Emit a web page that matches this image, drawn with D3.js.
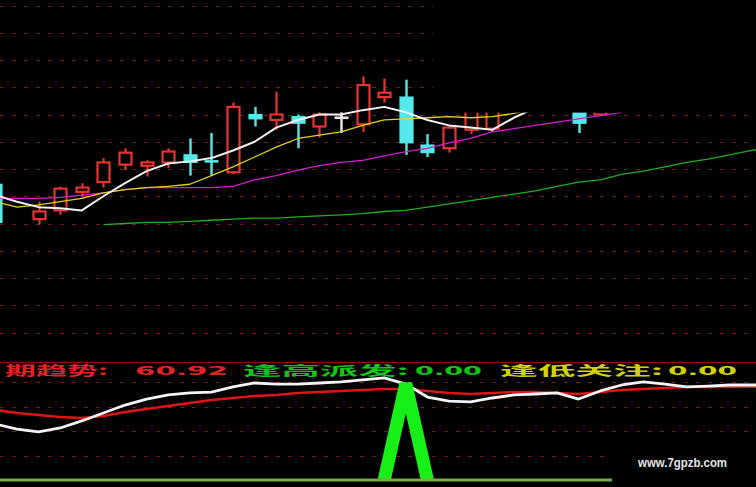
<!DOCTYPE html>
<html>
<head>
<meta charset="utf-8">
<script src="https://cdn.jsdelivr.net/npm/d3@7/dist/d3.min.js"></script>
<style>
html,body{margin:0;padding:0;background:#000;overflow:hidden;}
svg{display:block;}
</style>
</head>
<body>
<svg id="chart" width="756" height="487"></svg>
<script>
// ---------------- DATA ----------------
// bar indices of candles (index 0 has no visible candle)
const candleIndex = [-1,1,2,3,4,5,6,7,8,9,10,11,12,13,14,15,16,17,18,19,20,21,22,23,24,25,26,27];
const candleOpen  = [10.36,10.04,10.12,10.29,10.38,10.54,10.53,10.56,10.63,10.58,10.47,11.00,10.95,10.98,10.89,10.97,10.91,11.16,11.16,10.72,10.69,10.86,10.87,11.08,11.22,11.11,11.13,11.00];
const candleHigh  = [10.38,10.20,10.34,10.37,10.60,10.69,10.58,10.69,10.78,10.83,11.11,11.07,11.21,11.00,11.02,11.02,11.35,11.33,11.32,10.82,10.89,11.13,11.11,11.26,11.30,11.32,11.21,11.15];
const candleLow   = [ 9.98, 9.99,10.08,10.24,10.33,10.49,10.43,10.51,10.44,10.44,10.45,10.89,10.86,10.69,10.79,10.83,10.84,11.11,10.63,10.61,10.65,10.82,10.84,11.04,11.06,11.04,10.83,10.99];
const candleClose = [10.01,10.11,10.32,10.33,10.56,10.65,10.56,10.66,10.56,10.56,11.07,10.96,11.00,10.92,11.00,10.97,11.27,11.20,10.74,10.65,10.88,11.06,11.04,11.21,11.13,11.26,10.92,11.10];

// moving averages (start index given)
const ma5Start = -1;
const ma5  = [10.26,10.20,10.15,10.14,10.12,10.25,10.37,10.48,10.55,10.57,10.60,10.67,10.75,10.88,10.95,11.00,11.00,11.04,11.07,11.02,10.95,10.90,10.88,10.86,10.97,11.06,11.13,11.15,11.17];
const ma10Start = -1;
const ma10 = [10.20,10.15,10.17,10.20,10.23,10.28,10.31,10.33,10.34,10.36,10.44,10.52,10.61,10.70,10.78,10.81,10.84,10.90,10.95,10.96,10.97,10.98,10.97,10.98,11.01,11.06,11.10,11.13,11.16];
const ma20Start = -1;
const ma20 = [10.23,10.23,10.23,10.24,10.26,10.28,10.31,10.33,10.33,10.33,10.33,10.34,10.40,10.44,10.49,10.53,10.56,10.58,10.62,10.66,10.69,10.74,10.78,10.84,10.87,10.90,10.93,10.96,10.99,11.02];
const ma60Start = 4;
const ma60 = [9.99,10.00,10.01,10.01,10.02,10.03,10.04,10.05,10.05,10.06,10.07,10.08,10.09,10.11,10.12,10.15,10.18,10.21,10.24,10.27,10.30,10.34,10.38,10.40,10.45,10.48,10.52,10.56,10.59,10.63,10.67,10.70];

// lower indicator panel (indices -1 .. 35)
const subStart = -1;
const subWhite = [36.6,33.3,31.4,34.0,38.6,43.8,49.0,52.9,55.6,56.9,57.5,60.8,63.4,62.7,62.7,63.4,64.1,65.4,66.7,62.7,54.2,51.6,51.0,53.6,55.6,56.2,56.9,52.9,58.2,62.1,64.1,62.7,60.8,61.4,62.1,62.1,62.1];
const subTrend = [45.8,43.8,42.5,41.2,40.5,41.8,44.4,46.4,48.4,50.3,52.3,53.6,54.9,55.6,56.9,57.5,58.2,58.8,59.5,59.5,58.2,56.9,56.2,56.9,57.5,57.5,56.9,56.2,57.5,58.8,59.5,60.1,60.8,60.8,60.8,60.92,60.92];
const subHighSell = [0,0,0,0,0,0,0,0,0,0,0,0,0,0,0,0,0,0,0,63,0,0,0,0,0,0,0,0,0,0,0,0,0,0,0,0,0];
const subLowFocus = [0,0,0,0,0,0,0,0,0,0,0,0,0,0,0,0,0,0,0,0,0,0,0,0,0,0,0,0,0,0,0,0,0,0,0,0,0];

// ticks / labels
const priceTicks = [9.0,9.25,9.5,9.75,10.0,10.25,10.5,10.75,11.0,11.25,11.5,11.75,12.0];
const subTicks = [16,32,48,64];
const titleNames  = ["期趋势:", "逢高派发:", "逢低关注:"];
const titleValues = ["60.92", "0.00", "0.00"];
const titleColors = ["#e02424", "#10c810", "#d2d200"];
const watermark = "www.7gpzb.com";

// ---------------- DRAW ----------------
const W = 756, H = 487;
const RED = "#e8342e", CYAN = "#55e8e8", WHITE = "#e8e8e8";
const svg = d3.select("#chart");
svg.append("rect").attr("width", W).attr("height", H).attr("fill", "#000");

const x = d3.scaleLinear().domain([-1, 35]).range([-4.6, 773]);
const y = d3.scaleLinear().domain([10, 11]).range([223.5, 114.5]);
const ys = d3.scaleLinear().domain([0, 64]).range([480, 382.08]);

const defs = svg.append("defs");
defs.append("clipPath").attr("id", "clipTop").append("rect").attr("x", 0).attr("y", 0).attr("width", W).attr("height", 360);
defs.append("clipPath").attr("id", "clipSub").append("rect").attr("x", 0).attr("y", 363).attr("width", W).attr("height", 118);

const gridColor = "#761a1a";

// top grid
svg.append("g").selectAll("line").data(priceTicks).join("line")
  .attr("x1", 0).attr("x2", W)
  .attr("y1", d => Math.round(y(d)) + 0.5).attr("y2", d => Math.round(y(d)) + 0.5)
  .attr("stroke", gridColor).attr("stroke-width", 1).attr("stroke-dasharray", "4 8");

const topG = svg.append("g").attr("clip-path", "url(#clipTop)");

// candles
const candles = candleIndex.map((i, k) => ({i, o: candleOpen[k], h: candleHigh[k], l: candleLow[k], c: candleClose[k]}));
const bw = 12;
const cg = topG.append("g");
candles.forEach(d => {
  const cx = Math.round(x(d.i)) + 0.5;
  const yTop = y(Math.max(d.o, d.c)), yBot = y(Math.min(d.o, d.c));
  if (d.c > d.o) {
    cg.append("line").attr("x1", cx).attr("x2", cx).attr("y1", y(d.h)).attr("y2", yTop)
      .attr("stroke", RED).attr("stroke-width", 2.2);
    cg.append("line").attr("x1", cx).attr("x2", cx).attr("y1", yBot).attr("y2", y(d.l))
      .attr("stroke", RED).attr("stroke-width", 2.2);
    cg.append("rect").attr("x", cx - bw / 2).attr("y", yTop).attr("width", bw).attr("height", Math.max(1, yBot - yTop))
      .attr("fill", "#000").attr("stroke", RED).attr("stroke-width", 2.2);
  } else {
    const col = d.c < d.o ? CYAN : WHITE;
    cg.append("line").attr("x1", cx).attr("x2", cx).attr("y1", y(d.h)).attr("y2", y(d.l))
      .attr("stroke", col).attr("stroke-width", 2.4);
    if (yBot - yTop < 2.5) {
      cg.append("line").attr("x1", cx - bw / 2 - 1).attr("x2", cx + bw / 2 + 1).attr("y1", (yTop + yBot) / 2).attr("y2", (yTop + yBot) / 2)
        .attr("stroke", col).attr("stroke-width", 2.6);
    } else {
      cg.append("rect").attr("x", cx - bw / 2 - 0.5).attr("y", yTop).attr("width", bw + 1).attr("height", yBot - yTop)
        .attr("fill", col).attr("stroke", col).attr("stroke-width", 1.2);
    }
  }
});

// moving averages
function maLine(g, arr, start, color, width) {
  const pts = arr.map((v, k) => [start + k, v]);
  g.append("path").datum(pts)
    .attr("d", d3.line().x(p => x(p[0])).y(p => y(p[1])))
    .attr("fill", "none").attr("stroke", color).attr("stroke-width", width).attr("stroke-linejoin", "round");
}
maLine(topG, ma60, ma60Start, "#1fae1f", 1.3);
maLine(topG, ma20, ma20Start, "#d21ed2", 1.3);
maLine(topG, ma10, ma10Start, "#e2d21a", 1.3);
maLine(topG, ma5,  ma5Start,  "#f2f2f2", 2);

// hidden area at upper right
svg.append("rect").attr("x", 433).attr("y", 0).attr("width", W - 433).attr("height", 112.6).attr("fill", "#000");

// separator
svg.append("line").attr("x1", 0).attr("x2", W).attr("y1", 362.5).attr("y2", 362.5)
  .attr("stroke", "#9a0a0a").attr("stroke-width", 1);

// sub grid
svg.append("g").selectAll("line").data(subTicks).join("line")
  .attr("x1", 0).attr("x2", W)
  .attr("y1", d => Math.round(ys(d)) + 0.5).attr("y2", d => Math.round(ys(d)) + 0.5)
  .attr("stroke", gridColor).attr("stroke-width", 1).attr("stroke-dasharray", "4 8");

const sub = svg.append("g").attr("clip-path", "url(#clipSub)");
function subLine(arr, color, width) {
  const pts = arr.map((v, k) => [subStart + k, v]);
  sub.append("path").datum(pts)
    .attr("d", d3.line().x(p => x(p[0])).y(p => ys(p[1])))
    .attr("fill", "none").attr("stroke", color).attr("stroke-width", width).attr("stroke-linejoin", "round");
}
subLine(subTrend, "#e01414", 2.6);
subLine(subWhite, "#f4f4f4", 2.8);

// 逢高派发 spike
const hs = subHighSell.map((v, k) => [subStart + k, v, k]);
sub.append("path").datum(hs)
  .attr("d", d3.line()
    .defined(p => subHighSell[p[2]] > 0 || subHighSell[p[2] - 1] > 0 || subHighSell[p[2] + 1] > 0)
    .x(p => x(p[0])).y(p => ys(p[1])))
  .attr("fill", "none").attr("stroke", "#16f016").attr("stroke-width", 13).attr("stroke-linejoin", "bevel");

// 逢低关注 base line
svg.append("path").datum(subLowFocus.map((v, k) => [subStart + k, v]))
  .attr("d", d3.line().x(p => x(p[0])).y(p => ys(p[1])))
  .attr("fill", "none").attr("stroke", "#78aa48").attr("stroke-width", 3);

// watermark box
svg.append("rect").attr("x", 612).attr("y", 442).attr("width", W - 612).attr("height", H - 442).attr("fill", "#000");
svg.append("text").attr("x", 638).attr("y", 467).text(watermark)
  .attr("font-family", "Liberation Sans, Arial, sans-serif").attr("font-size", 12).attr("font-weight", "bold")
  .attr("fill", "#e6e6e6").attr("textLength", 89).attr("lengthAdjust", "spacingAndGlyphs");

// title texts
const namePos = [[5, 103], [243, 166], [500, 163]];
const valuePos = [[135, 93], [415, 67], [668, 69]];
const tg = svg.append("g").attr("font-family", "'Noto Sans CJK SC', 'Noto Sans', sans-serif").attr("font-size", 13);
titleNames.forEach((t, k) => {
  tg.append("text").attr("x", namePos[k][0]).attr("y", 375).text(t)
    .attr("fill", titleColors[k]).attr("font-weight", "bold")
    .attr("textLength", namePos[k][1]).attr("lengthAdjust", "spacingAndGlyphs");
  tg.append("text").attr("x", valuePos[k][0]).attr("y", 375).text(titleValues[k])
    .attr("fill", titleColors[k]).attr("font-weight", "bold")
    .attr("font-family", "'DejaVu Sans', sans-serif")
    .attr("textLength", valuePos[k][1]).attr("lengthAdjust", "spacingAndGlyphs");
});
</script>
</body>
</html>
